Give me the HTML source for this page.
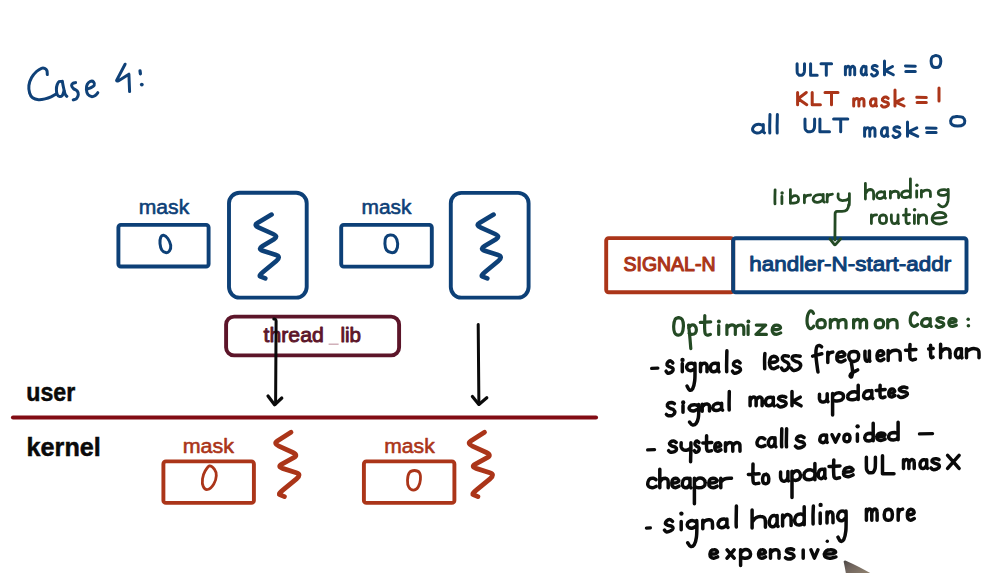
<!DOCTYPE html>
<html><head><meta charset="utf-8"><style>
html,body{margin:0;padding:0;background:#fff;width:1003px;height:573px;overflow:hidden}
svg{display:block}
</style></head><body>
<svg width="1003" height="573" viewBox="0 0 1003 573">
<rect width="1003" height="573" fill="#fff"/>
<path d="M47.3,74.6 C47.2,73.9 47.3,71.6 46.9,70.6 C46.5,69.6 45.5,68.8 44.6,68.4 C43.7,68.0 42.9,67.8 41.5,68.3 C40.1,68.8 38.1,70.0 36.5,71.5 C34.9,73.0 32.9,75.2 31.6,77.5 C30.3,79.8 29.2,82.9 28.9,85.5 C28.6,88.1 29.0,91.0 29.6,93.0 C30.2,95.0 31.1,96.7 32.6,97.8 C34.1,98.9 36.4,99.5 38.5,99.7 C40.6,99.9 42.9,99.4 45.0,98.9 C47.1,98.4 49.2,97.7 51.0,96.9 C52.8,96.1 54.8,94.7 55.6,94.3" fill="none" stroke="#0f4178" stroke-width="3.00" stroke-linecap="round" stroke-linejoin="round" />
<path d="M62.0,81.6 C61.5,81.6 60.0,81.1 59.2,81.6 C58.4,82.1 57.7,83.3 57.2,84.6 C56.7,85.9 56.4,87.8 56.4,89.5 C56.4,91.2 56.7,93.3 57.2,94.5 C57.7,95.7 58.7,96.5 59.6,96.6 C60.5,96.7 61.7,96.2 62.4,95.3 C63.1,94.4 63.7,91.7 64.0,91.0" fill="none" stroke="#0f4178" stroke-width="3.00" stroke-linecap="round" stroke-linejoin="round" />
<path d="M62.3,81.3 C62.5,82.4 63.1,85.9 63.6,88.0 C64.1,90.1 64.5,92.6 65.1,94.0 C65.6,95.4 66.6,96.0 66.9,96.4" fill="none" stroke="#0f4178" stroke-width="3.00" stroke-linecap="round" stroke-linejoin="round" />
<path d="M75.6,82.6 C75.2,82.7 73.7,82.7 73.0,83.2 C72.3,83.7 71.5,84.7 71.6,85.6 C71.7,86.5 72.6,87.7 73.5,88.6 C74.4,89.5 76.4,90.0 77.2,91.0 C78.0,92.0 78.4,93.4 78.3,94.6 C78.2,95.8 77.4,97.5 76.6,98.4 C75.8,99.3 73.8,99.7 73.2,99.9" fill="none" stroke="#0f4178" stroke-width="3.00" stroke-linecap="round" stroke-linejoin="round" />
<path d="M87.8,88.8 C88.3,88.6 89.9,88.2 91.0,87.6 C92.1,87.0 93.8,86.2 94.2,85.3 C94.6,84.4 94.2,82.7 93.6,82.0 C93.0,81.3 91.5,81.0 90.4,81.4 C89.4,81.8 88.0,82.9 87.3,84.2 C86.6,85.5 86.3,87.8 86.4,89.5 C86.5,91.2 87.1,93.2 87.9,94.4 C88.8,95.6 90.3,96.4 91.5,96.6 C92.7,96.8 94.2,96.1 95.3,95.4 C96.3,94.8 97.4,93.2 97.8,92.7" fill="none" stroke="#0f4178" stroke-width="3.00" stroke-linecap="round" stroke-linejoin="round" />
<path d="M125.1,64.2 L116.6,80.4 Q116.8,81.6 118.6,80.7 L128.9,74.2 L129.6,91.6" fill="none" stroke="#0f4178" stroke-width="3.00" stroke-linecap="round" stroke-linejoin="round" />
<path d="M140,70.8 L140.4,73.8" fill="none" stroke="#0f4178" stroke-width="3.20" stroke-linecap="round" stroke-linejoin="round" />
<circle cx="141.8" cy="84.6" r="1.9" fill="#0f4178"/>
<text x="138.8" y="213.8" font-family="Liberation Sans" font-size="19.5" font-weight="normal" fill="#0d4077" textLength="50.4" lengthAdjust="spacingAndGlyphs" stroke="#0d4077" stroke-width="0.55" stroke-linejoin="round">mask</text>
<rect x="118.4" y="224.9" width="90.2" height="41.6" rx="2.5" fill="none" stroke="#0d4077" stroke-width="3.9"/>
<path d="M163.5,235.3 C164.7,235.5 166.6,236.8 167.8,238.5 C169.0,240.2 170.4,243.2 170.7,245.3 C171.0,247.4 170.2,249.8 169.4,251.0 C168.6,252.2 167.0,252.8 165.7,252.6 C164.4,252.4 162.8,251.5 161.8,250.0 C160.9,248.5 160.2,245.8 160.0,243.7 C159.8,241.6 160.1,238.8 160.7,237.4 C161.3,236.0 162.3,235.1 163.5,235.3Z" fill="none" stroke="#0d4077" stroke-width="3.00" stroke-linecap="round" stroke-linejoin="round" />
<rect x="229" y="192.7" width="77.7" height="104.9" rx="10.5" fill="none" stroke="#0d4077" stroke-width="3.9"/>
<path d="M271.6,214.6 L257.4,222.9 Q253.4,225.3 258.9,227.7 L273.1,234.0 Q278.6,236.4 274.0,239.2 L262.2,246.2 Q257.6,249.0 262.8,250.7 L276.1,255.0 Q281.3,256.7 276.3,260.9 L263.6,271.6 Q258.6,275.8 260.1,276.4 L265.3,278.4" fill="none" stroke="#0d4077" stroke-width="4.60" stroke-linecap="round" stroke-linejoin="round" />
<text x="361.6" y="213.6" font-family="Liberation Sans" font-size="19.5" font-weight="normal" fill="#0d4077" textLength="49.9" lengthAdjust="spacingAndGlyphs" stroke="#0d4077" stroke-width="0.55" stroke-linejoin="round">mask</text>
<rect x="341.2" y="224.9" width="90.6" height="41.7" rx="2.5" fill="none" stroke="#0d4077" stroke-width="3.9"/>
<path d="M390.1,235.1 C391.7,235.0 394.1,235.5 395.4,236.9 C396.7,238.3 397.6,241.3 397.7,243.7 C397.8,246.0 397.0,249.5 395.9,251.0 C394.8,252.5 392.8,252.8 391.2,252.6 C389.6,252.4 387.6,251.5 386.5,250.0 C385.4,248.5 385.0,245.8 384.9,243.7 C384.8,241.6 385.0,238.8 385.9,237.4 C386.8,236.0 388.5,235.2 390.1,235.1Z" fill="none" stroke="#0d4077" stroke-width="3.00" stroke-linecap="round" stroke-linejoin="round" />
<rect x="450.8" y="192.9" width="77.8" height="104.7" rx="10.5" fill="none" stroke="#0d4077" stroke-width="3.9"/>
<path d="M493.6,214.6 L479.4,222.9 Q475.4,225.3 480.9,227.7 L495.1,234.0 Q500.6,236.4 496.0,239.2 L484.2,246.2 Q479.6,249.0 484.8,250.7 L498.1,255.0 Q503.3,256.7 498.3,260.9 L485.6,271.6 Q480.6,275.8 482.1,276.4 L487.3,278.4" fill="none" stroke="#0d4077" stroke-width="4.60" stroke-linecap="round" stroke-linejoin="round" />
<rect x="226.1" y="316.6" width="173" height="38.8" rx="8" fill="none" stroke="#5c1529" stroke-width="3.9"/>
<text x="263.6" y="341.9" font-family="Liberation Sans" font-size="21.0" font-weight="normal" fill="#5c1529" textLength="60.2" lengthAdjust="spacingAndGlyphs" stroke="#5c1529" stroke-width="0.90" stroke-linejoin="round">thread</text>
<text x="340.4" y="341.9" font-family="Liberation Sans" font-size="21.0" font-weight="normal" fill="#5c1529" textLength="20.6" lengthAdjust="spacingAndGlyphs" stroke="#5c1529" stroke-width="0.90" stroke-linejoin="round">lib</text>
<line x1="328.6" y1="344.2" x2="338.6" y2="344.2" stroke="#c9a3ae" stroke-width="1.3"/>
<path d="M273.8,319 Q276,318.6 276.1,321 L275.6,404" fill="none" stroke="#0a0a0a" stroke-width="3.00" stroke-linecap="round" stroke-linejoin="round" />
<path d="M268,396 L274.6,404.8 L281.8,398" fill="none" stroke="#0a0a0a" stroke-width="3.20" stroke-linecap="round" stroke-linejoin="round" />
<path d="M478.2,324.5 L478.9,404" fill="none" stroke="#0a0a0a" stroke-width="3.00" stroke-linecap="round" stroke-linejoin="round" />
<path d="M472.4,396.4 L478.9,404.4 L486.8,397.8" fill="none" stroke="#0a0a0a" stroke-width="3.20" stroke-linecap="round" stroke-linejoin="round" />
<text x="26.3" y="400.9" font-family="Liberation Sans" font-size="25.0" font-weight="bold" fill="#0a0a0a" textLength="48.9" lengthAdjust="spacingAndGlyphs" stroke="#0a0a0a" stroke-width="0.5">user</text>
<line x1="13" y1="417.5" x2="596" y2="417.5" stroke="#820c14" stroke-width="4.1" stroke-linecap="round"/>
<text x="26.6" y="455.6" font-family="Liberation Sans" font-size="25.0" font-weight="bold" fill="#0a0a0a" textLength="74.2" lengthAdjust="spacingAndGlyphs" stroke="#0a0a0a" stroke-width="0.5">kernel</text>
<text x="182.7" y="452.6" font-family="Liberation Sans" font-size="19.5" font-weight="normal" fill="#ab3519" textLength="51.3" lengthAdjust="spacingAndGlyphs" stroke="#ab3519" stroke-width="0.55" stroke-linejoin="round">mask</text>
<rect x="163.4" y="461.4" width="90.5" height="41.5" rx="2.5" fill="none" stroke="#ab3519" stroke-width="3.9"/>
<path d="M209.4,466.0 C211.0,465.7 213.3,467.8 214.5,469.4 C215.7,471.0 216.4,473.3 216.3,475.7 C216.2,478.1 215.2,481.6 213.8,483.9 C212.4,486.2 209.4,489.1 207.6,489.5 C205.8,489.9 204.0,488.2 203.2,486.4 C202.3,484.6 202.2,481.3 202.5,478.8 C202.8,476.3 203.8,473.4 205.0,471.3 C206.2,469.2 207.8,466.3 209.4,466.0Z" fill="none" stroke="#ab3519" stroke-width="2.80" stroke-linecap="round" stroke-linejoin="round" />
<path d="M291.0,432.2 L277.3,441.0 Q273.4,443.5 278.9,446.1 L292.9,452.5 Q298.4,455.1 293.7,457.7 L281.9,464.1 Q277.2,466.7 282.6,468.4 L296.3,472.8 Q301.7,474.5 296.5,478.8 L283.4,489.7 Q278.2,494.0 279.6,494.6 L284.4,496.6" fill="none" stroke="#ab3519" stroke-width="4.80" stroke-linecap="round" stroke-linejoin="round" />
<text x="384.3" y="452.6" font-family="Liberation Sans" font-size="19.5" font-weight="normal" fill="#ab3519" textLength="50.4" lengthAdjust="spacingAndGlyphs" stroke="#ab3519" stroke-width="0.55" stroke-linejoin="round">mask</text>
<rect x="363.9" y="461.4" width="90.5" height="41.5" rx="2.5" fill="none" stroke="#ab3519" stroke-width="3.9"/>
<path d="M414.4,470.5 C416.1,470.5 418.5,471.2 419.5,472.7 C420.5,474.2 420.6,477.2 420.4,479.6 C420.2,482.0 419.3,485.3 418.2,487.1 C417.1,488.9 415.1,490.2 413.5,490.2 C411.9,490.2 409.8,488.8 408.8,487.1 C407.8,485.4 407.4,482.6 407.5,480.2 C407.6,477.8 408.2,474.3 409.4,472.7 C410.5,471.1 412.7,470.5 414.4,470.5Z" fill="none" stroke="#ab3519" stroke-width="2.80" stroke-linecap="round" stroke-linejoin="round" />
<path d="M484.5,432.2 L470.8,441.0 Q466.9,443.5 472.4,446.1 L486.4,452.5 Q491.9,455.1 487.2,457.7 L475.4,464.1 Q470.7,466.7 476.1,468.4 L489.8,472.8 Q495.2,474.5 490.0,478.8 L476.9,489.7 Q471.7,494.0 473.1,494.6 L477.9,496.6" fill="none" stroke="#ab3519" stroke-width="4.80" stroke-linecap="round" stroke-linejoin="round" />
<rect x="606.2" y="238.1" width="127" height="54.2" rx="2.5" fill="none" stroke="#ab3519" stroke-width="3.9"/>
<rect x="733.2" y="238.2" width="233.3" height="54.1" rx="2.5" fill="none" stroke="#0d4077" stroke-width="3.9"/>
<text x="623.5" y="271.1" font-family="Liberation Sans" font-size="19.8" font-weight="normal" fill="#ab3519" textLength="92.0" lengthAdjust="spacingAndGlyphs" stroke="#ab3519" stroke-width="1.15" stroke-linejoin="round">SIGNAL-N</text>
<text x="749.3" y="270.6" font-family="Liberation Sans" font-size="20.5" font-weight="normal" fill="#0d4077" textLength="201.9" lengthAdjust="spacingAndGlyphs" stroke="#0d4077" stroke-width="1.00" stroke-linejoin="round">handler-N-start-addr</text>
<path d="M797.1,63.7 C797.1,64.6 797.1,67.5 797.1,69.1 C797.1,70.6 797.1,71.9 797.3,72.9 C797.6,73.9 798.3,74.5 798.8,74.9 C799.4,75.3 800.1,75.3 800.8,75.2 C801.5,75.1 802.4,75.1 802.9,74.6 C803.5,74.1 804.0,73.2 804.3,72.1 C804.5,71.1 804.5,69.7 804.5,68.3 C804.5,66.9 804.5,64.5 804.5,63.7 M810.6,63.7 L810.6,75.2 L817.2,75.2 M821.0,63.7 L831.6,63.7 M826.3,63.7 L826.3,75.2" fill="none" stroke="#0f4178" stroke-width="3.00" stroke-linecap="round" stroke-linejoin="round"/>
<path d="M845.4,66.5 L845.4,74.8 M845.5,69.2 C845.7,68.8 846.4,67.3 847.0,66.8 C847.5,66.4 848.3,66.3 848.8,66.5 C849.3,66.7 849.8,66.8 850.0,68.2 C850.2,69.5 850.0,73.7 850.0,74.8 M850.0,69.2 C850.3,68.8 851.1,67.3 851.6,66.8 C852.2,66.4 853.0,66.3 853.5,66.5 C854.0,66.7 854.4,66.8 854.6,68.2 C854.8,69.5 854.7,73.7 854.7,74.8 M866.0,67.9 C865.8,67.7 865.2,66.7 864.6,66.5 C864.1,66.3 863.1,66.4 862.6,67.0 C862.0,67.6 861.5,68.8 861.3,69.8 C861.1,70.8 861.2,72.3 861.4,73.1 C861.7,74.0 862.4,74.6 863.0,74.8 C863.5,75.0 864.3,74.7 864.8,74.1 C865.3,73.6 865.8,72.1 866.0,71.6 M866.0,66.5 L866.0,73.8 L866.6,74.8 M877.2,66.3 C876.9,66.2 876.0,65.6 875.3,65.5 C874.6,65.4 873.5,65.6 873.0,66.0 C872.5,66.4 872.1,67.5 872.3,68.2 C872.5,68.8 873.4,69.4 874.2,69.8 C874.9,70.3 876.1,70.3 876.6,70.8 C877.2,71.3 877.6,72.2 877.5,73.0 C877.4,73.7 876.6,74.7 875.9,75.2 C875.1,75.7 873.8,76.0 873.0,75.9 C872.3,75.8 871.8,74.6 871.5,74.3 M884.5,61.1 L884.5,74.8 M892.5,66.5 L885.2,70.5 L893.3,74.8" fill="none" stroke="#0f4178" stroke-width="3.00" stroke-linecap="round" stroke-linejoin="round"/>
<path d="M905.5,65.9 L915.3,66.2 M905.8,71.5 L915.3,71.5" fill="none" stroke="#0f4178" stroke-width="3.00" stroke-linecap="round" stroke-linejoin="round" />
<path d="M936.0,55.5 C935.4,55.7 933.2,55.8 932.4,56.8 C931.6,57.7 931.1,59.6 931.1,61.1 C931.1,62.7 931.4,64.9 932.2,66.0 C933.0,67.1 934.7,67.6 936.0,67.6 C937.2,67.6 938.9,67.1 939.7,66.0 C940.5,64.9 940.8,62.7 940.8,61.1 C940.8,59.6 940.3,57.7 939.5,56.8 C938.7,55.8 936.8,55.6 935.8,55.5 C934.9,55.4 934.2,56.0 933.9,56.1" fill="none" stroke="#0f4178" stroke-width="3.00" stroke-linecap="round" stroke-linejoin="round"/>
<path d="M797.6,92.5 L797.6,104.7 M806.3,92.5 L798.1,98.8 L806.8,104.7 M812.2,92.5 L812.2,104.7 L820.4,104.7 M825.0,92.5 L838.0,92.5 M831.5,92.5 L831.5,104.7" fill="none" stroke="#ab3519" stroke-width="3.00" stroke-linecap="round" stroke-linejoin="round"/>
<path d="M853.7,98.7 L853.7,106.0 M853.8,101.0 C854.1,100.7 854.8,99.4 855.5,99.0 C856.1,98.6 857.0,98.5 857.5,98.7 C858.1,98.9 858.5,98.9 858.7,100.2 C859.0,101.4 858.8,105.0 858.9,106.0 M858.9,101.0 C859.1,100.7 860.0,99.4 860.6,99.0 C861.2,98.6 862.1,98.5 862.7,98.7 C863.2,98.9 863.7,98.9 863.9,100.2 C864.1,101.4 864.0,105.0 864.0,106.0 M875.9,99.9 C875.6,99.7 874.9,98.8 874.3,98.7 C873.6,98.6 872.6,98.7 871.9,99.1 C871.3,99.6 870.7,100.7 870.5,101.6 C870.3,102.5 870.3,103.8 870.7,104.5 C871.0,105.3 871.8,105.9 872.4,106.0 C873.0,106.1 873.9,105.9 874.4,105.4 C875.0,105.0 875.6,103.6 875.9,103.2 M875.9,98.7 L875.9,105.1 L876.5,106.0 M888.2,98.4 C887.8,98.2 886.8,97.2 885.9,97.1 C885.1,97.0 883.9,97.4 883.3,97.9 C882.7,98.4 882.2,99.5 882.4,100.2 C882.6,100.8 883.8,101.2 884.6,101.6 C885.5,102.0 886.9,102.0 887.5,102.5 C888.1,103.0 888.6,103.8 888.5,104.4 C888.4,105.0 887.5,105.9 886.6,106.3 C885.7,106.7 884.1,107.1 883.3,107.0 C882.4,106.8 881.8,105.8 881.5,105.6 M895.0,89.9 L895.0,106.0 M903.2,98.7 L895.7,102.2 L904.1,106.0" fill="none" stroke="#ab3519" stroke-width="3.00" stroke-linecap="round" stroke-linejoin="round"/>
<path d="M916.8,97.3 L926.3,97.6 M917.1,102.5 L926.3,102.5" fill="none" stroke="#ab3519" stroke-width="3.00" stroke-linecap="round" stroke-linejoin="round" />
<path d="M939.0,88.0 L939.0,101.0" fill="none" stroke="#ab3519" stroke-width="3.00" stroke-linecap="round" stroke-linejoin="round"/>
<path d="M763.3,125.8 C762.8,125.6 761.5,124.6 760.2,124.4 C759.0,124.2 756.9,124.3 755.6,124.9 C754.4,125.5 753.3,126.8 752.9,127.8 C752.5,128.8 752.6,130.4 753.2,131.2 C753.8,132.1 755.3,132.7 756.6,132.9 C757.8,133.1 759.4,132.8 760.5,132.2 C761.7,131.7 762.8,130.1 763.3,129.7 M763.3,124.4 L763.3,131.9 L764.5,132.9 M770.0,114.5 C769.9,116.4 769.8,123.0 769.7,126.1 C769.7,129.2 769.8,131.8 769.8,132.9 M777.4,114.5 C777.3,116.4 777.2,123.0 777.1,126.1 C777.1,129.2 777.2,131.8 777.2,132.9" fill="none" stroke="#0f4178" stroke-width="3.00" stroke-linecap="round" stroke-linejoin="round"/>
<path d="M805.0,119.0 C805.0,120.0 804.9,123.2 805.0,124.9 C805.1,126.6 804.9,128.1 805.3,129.2 C805.7,130.2 806.5,130.9 807.2,131.4 C808.0,131.8 808.9,131.8 809.8,131.7 C810.7,131.6 811.8,131.6 812.6,131.0 C813.3,130.5 813.9,129.5 814.3,128.3 C814.6,127.2 814.5,125.6 814.6,124.1 C814.7,122.5 814.6,119.8 814.6,119.0 M819.9,119.0 L819.9,131.7 L829.5,131.7 M833.6,119.0 L847.8,119.0 M840.7,119.0 L840.7,131.7" fill="none" stroke="#0f4178" stroke-width="3.00" stroke-linecap="round" stroke-linejoin="round"/>
<path d="M864.6,127.8 L864.6,136.3 M864.7,130.5 C865.0,130.1 865.7,128.6 866.4,128.1 C867.0,127.7 867.9,127.6 868.4,127.8 C869.0,128.0 869.5,128.1 869.7,129.5 C869.9,130.9 869.8,135.2 869.8,136.3 M869.8,130.5 C870.1,130.1 870.9,128.6 871.6,128.1 C872.2,127.7 873.1,127.6 873.6,127.8 C874.2,128.0 874.7,128.1 874.9,129.5 C875.1,130.9 875.0,135.2 875.0,136.3 M887.3,129.2 C887.0,129.0 886.3,128.0 885.6,127.8 C884.9,127.6 883.7,127.7 883.0,128.3 C882.4,128.9 881.7,130.2 881.5,131.2 C881.3,132.2 881.3,133.8 881.7,134.6 C882.0,135.5 882.9,136.1 883.6,136.3 C884.2,136.5 885.1,136.2 885.8,135.6 C886.4,135.1 887.1,133.5 887.3,133.1 M887.3,127.8 L887.3,135.3 L888.0,136.3 M899.7,127.6 C899.3,127.5 898.3,126.8 897.4,126.7 C896.6,126.7 895.4,126.8 894.8,127.3 C894.2,127.7 893.7,128.8 893.9,129.5 C894.1,130.2 895.3,130.7 896.1,131.2 C897.0,131.7 898.4,131.7 899.0,132.2 C899.6,132.8 900.1,133.7 900.0,134.4 C899.9,135.2 899.0,136.2 898.1,136.7 C897.2,137.2 895.6,137.6 894.8,137.4 C893.9,137.3 893.3,136.1 893.0,135.8 M907.5,122.1 L907.5,136.3 M916.8,127.8 L908.3,131.9 L917.8,136.3" fill="none" stroke="#0f4178" stroke-width="3.00" stroke-linecap="round" stroke-linejoin="round"/>
<path d="M926.5,128.0 L936.1,128.3 M926.8,132.5 L936.1,132.5" fill="none" stroke="#0f4178" stroke-width="3.00" stroke-linecap="round" stroke-linejoin="round" />
<path d="M957.7,116.4 C956.8,116.6 953.7,116.7 952.5,117.4 C951.3,118.2 950.7,119.7 950.6,120.9 C950.5,122.1 951.0,123.9 952.2,124.7 C953.4,125.6 955.9,126.0 957.7,126.0 C959.5,126.0 962.0,125.6 963.2,124.7 C964.4,123.9 964.9,122.1 964.8,120.9 C964.7,119.7 964.1,118.2 962.9,117.4 C961.7,116.7 958.9,116.5 957.5,116.4 C956.2,116.3 955.2,116.8 954.7,116.9" fill="none" stroke="#0f4178" stroke-width="3.00" stroke-linecap="round" stroke-linejoin="round"/>
<path d="M775.1,189.8 C775.1,191.1 774.9,195.5 774.9,197.8 C774.9,200.2 774.9,202.9 775.0,203.9 M781.9,196.4 L781.9,203.7 M790.4,189.7 L790.4,203.3 M790.5,198.8 C791.0,198.3 792.4,196.4 793.5,195.9 C794.6,195.5 796.3,195.5 797.1,196.1 C798.0,196.6 798.6,198.2 798.6,199.2 C798.6,200.2 798.2,201.5 797.4,202.2 C796.6,202.8 794.8,203.1 793.7,203.2 C792.6,203.3 791.1,202.7 790.5,202.6 M804.4,195.2 L804.4,202.8 M804.5,198.1 C804.9,197.7 805.6,196.3 806.6,195.7 C807.6,195.2 809.9,195.1 810.6,195.0 M823.2,195.8 C822.8,195.6 821.6,194.7 820.3,194.6 C819.1,194.5 817.2,194.7 816.0,195.2 C814.8,195.8 813.8,197.0 813.4,197.9 C813.0,198.9 813.1,200.2 813.7,201.0 C814.3,201.7 815.7,202.2 816.9,202.4 C818.0,202.5 819.6,202.1 820.6,201.6 C821.7,201.1 822.8,199.6 823.2,199.2 M823.2,194.5 L823.2,201.2 L824.4,202.1 M827.2,194.4 L827.2,202.0 M827.3,197.3 C827.6,196.9 828.2,195.4 829.1,194.9 C829.9,194.4 831.8,194.3 832.4,194.2 M838.2,194.0 C838.2,194.6 837.8,196.7 838.2,197.8 C838.6,198.8 839.4,199.7 840.4,200.1 C841.4,200.6 843.0,200.6 844.2,200.4 C845.5,200.3 847.2,199.7 848.0,199.2 C848.9,198.7 849.2,197.7 849.4,197.4 M849.4,193.6 C849.4,194.6 849.4,197.7 849.4,199.6 C849.4,201.6 849.3,204.2 849.2,205.2" fill="none" stroke="#244a24" stroke-width="2.80" stroke-linecap="round" stroke-linejoin="round"/><circle cx="782.1" cy="193.0" r="1.74" fill="#244a24"/>
<path d="M865.4,183.4 L865.4,199.0 M865.5,193.5 C865.9,193.0 866.9,191.0 867.8,190.3 C868.7,189.6 869.9,189.5 870.8,189.5 C871.7,189.6 872.6,190.1 873.1,190.9 C873.6,191.7 873.5,192.9 873.6,194.3 C873.7,195.6 873.6,198.2 873.6,199.0 M884.6,192.8 C884.2,192.6 883.2,191.8 882.3,191.8 C881.3,191.7 879.8,191.8 878.9,192.3 C877.9,192.7 877.1,193.8 876.8,194.6 C876.5,195.4 876.6,196.6 877.0,197.2 C877.5,197.9 878.6,198.4 879.5,198.5 C880.5,198.6 881.7,198.3 882.5,197.8 C883.4,197.4 884.2,196.1 884.6,195.8 M884.6,191.7 L884.6,197.5 L885.5,198.2 M890.4,191.5 L890.4,198.1 M890.5,193.7 C890.9,193.4 892.1,192.1 893.0,191.6 C894.0,191.2 895.2,191.2 896.1,191.3 C896.9,191.4 897.8,191.7 898.2,192.4 C898.6,193.0 898.5,194.2 898.6,195.1 C898.7,196.0 898.6,197.3 898.6,197.8 M910.4,192.1 C909.9,191.9 908.5,191.0 907.3,190.9 C906.1,190.8 904.2,191.1 903.2,191.7 C902.2,192.3 901.5,193.5 901.4,194.4 C901.3,195.3 901.7,196.3 902.4,196.9 C903.2,197.4 904.7,197.6 905.8,197.5 C906.9,197.5 908.3,197.1 909.1,196.6 C909.9,196.2 910.2,195.1 910.4,194.7 M910.4,178.8 L910.4,197.4 M916.7,190.8 L916.7,197.2 M921.4,190.4 L921.4,197.0 M921.5,192.6 C922.0,192.3 923.3,191.0 924.3,190.6 C925.3,190.1 926.7,190.1 927.6,190.2 C928.6,190.3 929.5,190.6 930.0,191.3 C930.4,191.9 930.3,193.1 930.4,194.0 C930.5,194.9 930.4,196.2 930.4,196.7 M948.2,190.8 C947.6,190.6 945.9,189.7 944.6,189.6 C943.2,189.5 941.2,189.7 940.1,190.3 C939.1,190.8 938.2,191.9 938.2,192.7 C938.2,193.5 938.9,194.5 939.8,194.9 C940.8,195.3 942.6,195.5 944.0,195.3 C945.4,195.1 947.5,193.8 948.2,193.5 M948.2,189.5 C948.2,190.2 948.3,192.1 948.3,194.1 C948.3,196.0 948.3,199.2 947.9,201.1 C947.4,203.1 946.5,204.8 945.5,205.7 C944.4,206.7 942.8,206.9 941.6,206.7 C940.5,206.5 939.1,204.9 938.6,204.5" fill="none" stroke="#244a24" stroke-width="2.80" stroke-linecap="round" stroke-linejoin="round"/><circle cx="916.9" cy="185.3" r="1.74" fill="#244a24"/>
<path d="M871.4,214.9 L871.4,223.6 M871.5,218.2 C871.8,217.8 872.4,216.1 873.3,215.6 C874.1,215.0 876.0,215.0 876.6,214.9 M883.4,214.9 C883.0,215.0 881.2,215.0 880.5,215.8 C879.8,216.5 879.4,218.1 879.4,219.2 C879.4,220.4 879.7,222.0 880.3,222.7 C880.9,223.5 882.1,223.6 883.0,223.6 C884.0,223.6 885.2,223.3 885.8,222.6 C886.4,221.8 886.6,220.2 886.6,219.1 C886.6,218.0 886.3,216.6 885.7,215.9 C885.2,215.2 883.9,215.0 883.2,214.9 C882.6,214.8 881.9,215.3 881.7,215.4 M891.4,214.9 C891.4,215.8 891.2,218.8 891.4,220.1 C891.6,221.5 892.0,222.3 892.5,222.9 C893.1,223.5 894.0,223.7 894.7,223.6 C895.5,223.5 896.4,223.2 897.0,222.6 C897.5,221.9 897.8,220.4 898.0,219.9 M898.0,214.9 L898.0,222.7 L898.6,223.6 M906.1,209.1 C906.1,210.7 905.9,216.1 906.0,218.4 C906.0,220.6 906.0,221.7 906.3,222.6 C906.6,223.4 907.0,223.5 907.5,223.6 C908.0,223.7 909.1,223.2 909.4,223.1 M903.4,215.1 L909.6,214.7 M914.4,215.2 L914.4,223.6 M918.4,214.9 L918.4,223.6 M918.5,217.9 C918.9,217.4 920.1,215.7 921.0,215.2 C922.0,214.8 923.2,214.7 924.1,214.9 C924.9,215.1 925.8,215.6 926.2,216.5 C926.6,217.3 926.5,218.9 926.6,220.1 C926.7,221.3 926.6,223.0 926.6,223.6 M933.2,218.2 C934.6,218.1 939.8,218.1 941.9,217.7 C944.0,217.4 945.6,216.8 945.9,216.1 C946.2,215.4 945.0,213.9 943.9,213.3 C942.9,212.7 941.1,212.4 939.5,212.4 C938.0,212.4 936.0,212.6 934.8,213.6 C933.6,214.5 932.4,216.5 932.2,218.0 C932.0,219.4 932.6,221.4 933.8,222.4 C935.0,223.4 937.5,224.0 939.5,224.0 C941.6,224.0 945.2,222.5 946.3,222.1" fill="none" stroke="#244a24" stroke-width="2.80" stroke-linecap="round" stroke-linejoin="round"/><circle cx="914.6" cy="209.7" r="1.74" fill="#244a24"/>
<path d="M848.6,205 Q848.6,211.2 842,211.4 L837.2,211.4 Q835.1,211.6 835.1,214 L834.9,240" fill="none" stroke="#244a24" stroke-width="2.80" stroke-linecap="round" stroke-linejoin="round" />
<path d="M829.9,238.8 L834.2,244.4 Q834.9,245.4 835.7,244.4 L840.7,238.8" fill="none" stroke="#244a24" stroke-width="2.80" stroke-linecap="round" stroke-linejoin="round" />
<path d="M678.5,317.6 C678.0,317.9 676.0,317.9 675.2,319.2 C674.4,320.6 673.8,323.6 673.7,325.8 C673.6,328.0 673.9,331.1 674.6,332.6 C675.4,334.2 677.0,335.1 678.2,335.2 C679.4,335.3 681.0,334.8 681.9,333.3 C682.7,331.9 683.3,328.7 683.4,326.4 C683.5,324.1 683.0,320.9 682.2,319.5 C681.3,318.0 679.4,317.8 678.5,317.6 C677.5,317.4 676.7,318.4 676.3,318.5 M688.6,325.1 C688.7,326.3 689.0,328.6 689.4,332.5 C689.8,336.5 690.6,346.0 690.8,348.7 M688.7,328.1 C689.2,327.6 690.5,325.5 691.5,325.1 C692.6,324.7 694.2,325.1 695.0,325.8 C695.8,326.6 696.4,328.5 696.4,329.8 C696.4,331.0 696.0,332.5 695.2,333.3 C694.5,334.1 692.8,334.4 691.7,334.4 C690.7,334.4 689.5,333.3 689.1,333.1 M704.8,315.6 C704.8,317.6 704.6,324.4 704.6,327.4 C704.7,330.4 704.7,332.3 705.2,333.6 C705.6,334.9 706.4,335.1 707.2,335.2 C708.1,335.3 709.8,334.5 710.4,334.4 M700.3,322.4 L710.7,321.9 M718.7,325.5 L718.7,334.4 M726.9,325.1 L726.9,334.4 M727.1,328.1 C727.5,327.6 728.8,326.0 729.8,325.5 C730.8,325.0 732.3,324.9 733.2,325.1 C734.1,325.3 734.8,325.4 735.2,327.0 C735.5,328.5 735.3,333.2 735.3,334.4 M735.3,328.1 C735.8,327.6 737.2,326.0 738.2,325.5 C739.3,325.0 740.7,324.9 741.6,325.1 C742.5,325.3 743.3,325.4 743.6,327.0 C744.0,328.5 743.8,333.2 743.8,334.4 M748.1,325.5 L748.1,334.4 M756.3,325.1 L765.7,325.1 L756.0,334.4 L766.4,334.4 M772.8,329.8 C773.7,329.7 776.8,329.7 778.1,329.4 C779.3,329.1 780.3,328.7 780.5,328.1 C780.7,327.5 779.9,326.3 779.3,325.8 C778.6,325.3 777.5,325.1 776.6,325.1 C775.7,325.1 774.5,325.3 773.8,326.0 C773.0,326.8 772.3,328.4 772.2,329.6 C772.1,330.7 772.4,332.3 773.2,333.1 C773.9,333.9 775.4,334.4 776.6,334.4 C777.9,334.4 780.0,333.2 780.7,332.9" fill="none" stroke="#244a24" stroke-width="3.20" stroke-linecap="round" stroke-linejoin="round"/><circle cx="718.9" cy="321.4" r="1.98" fill="#244a24"/><circle cx="748.4" cy="321.4" r="1.98" fill="#244a24"/>
<path d="M813.5,313.4 C813.2,313.0 812.5,311.4 811.9,311.1 C811.2,310.8 810.1,311.0 809.4,311.8 C808.7,312.6 808.0,314.2 807.6,315.7 C807.2,317.3 807.0,319.3 807.0,321.0 C807.0,322.7 807.3,324.7 807.8,325.9 C808.3,327.2 809.3,328.2 810.0,328.5 C810.7,328.8 811.6,328.4 812.2,328.0 C812.8,327.6 813.5,326.5 813.7,326.2 M821.6,319.6 C821.0,319.7 819.0,319.7 818.2,320.4 C817.4,321.1 816.9,322.6 816.9,323.8 C816.9,324.9 817.2,326.4 817.9,327.1 C818.6,327.8 820.1,327.9 821.2,327.9 C822.2,327.9 823.7,327.6 824.4,326.9 C825.1,326.2 825.3,324.6 825.3,323.6 C825.3,322.5 824.9,321.3 824.3,320.6 C823.6,319.9 822.2,319.7 821.4,319.6 C820.6,319.5 819.9,320.0 819.5,320.1 M830.3,319.6 L830.3,327.9 M830.5,322.3 C830.9,321.9 832.0,320.4 833.0,319.9 C833.9,319.5 835.3,319.4 836.1,319.6 C836.9,319.8 837.7,319.9 838.0,321.3 C838.3,322.6 838.1,326.8 838.2,327.9 M838.2,322.3 C838.6,321.9 839.9,320.4 840.8,319.9 C841.8,319.5 843.1,319.4 844.0,319.6 C844.8,319.8 845.5,319.9 845.8,321.3 C846.2,322.6 846.0,326.8 846.0,327.9 M853.6,319.6 L853.6,327.9 M853.7,322.3 C854.1,321.9 855.0,320.4 855.8,319.9 C856.6,319.5 857.7,319.4 858.4,319.6 C859.1,319.8 859.7,319.9 860.0,321.3 C860.3,322.6 860.1,326.8 860.1,327.9 M860.1,322.3 C860.5,321.9 861.5,320.4 862.3,319.9 C863.1,319.5 864.2,319.4 864.9,319.6 C865.6,319.8 866.2,319.9 866.5,321.3 C866.8,322.6 866.6,326.8 866.6,327.9 M879.9,319.6 C879.3,319.7 877.3,319.7 876.5,320.4 C875.7,321.1 875.2,322.6 875.2,323.8 C875.2,324.9 875.5,326.4 876.2,327.1 C876.9,327.8 878.4,327.9 879.5,327.9 C880.5,327.9 882.0,327.6 882.7,326.9 C883.4,326.2 883.6,324.6 883.6,323.6 C883.6,322.5 883.2,321.3 882.6,320.6 C881.9,319.9 880.5,319.7 879.7,319.6 C878.9,319.5 878.2,320.0 877.8,320.1 M887.7,319.6 L887.7,327.9 M887.8,322.4 C888.3,322.0 889.7,320.4 890.7,319.9 C891.8,319.5 893.2,319.4 894.2,319.6 C895.2,319.8 896.2,320.3 896.7,321.1 C897.1,321.9 897.0,323.4 897.1,324.6 C897.2,325.7 897.1,327.3 897.1,327.9" fill="none" stroke="#244a24" stroke-width="3.20" stroke-linecap="round" stroke-linejoin="round"/>
<path d="M917.4,314.7 C917.1,314.4 916.4,313.1 915.6,312.9 C914.9,312.7 913.7,312.8 912.9,313.4 C912.1,314.0 911.3,315.3 910.8,316.4 C910.4,317.6 910.2,319.1 910.2,320.4 C910.2,321.7 910.5,323.3 911.1,324.2 C911.7,325.2 912.7,325.9 913.6,326.2 C914.4,326.5 915.4,326.1 916.0,325.8 C916.7,325.5 917.4,324.7 917.7,324.4 M930.2,319.9 C929.8,319.7 928.8,318.7 927.7,318.6 C926.7,318.5 925.0,318.5 924.0,319.1 C923.0,319.6 922.1,320.8 921.8,321.7 C921.5,322.7 921.6,324.1 922.0,324.8 C922.5,325.6 923.8,326.2 924.8,326.4 C925.8,326.6 927.1,326.3 928.0,325.8 C928.9,325.3 929.8,323.8 930.2,323.4 M930.2,318.6 L930.2,325.5 L931.2,326.4 M943.4,318.4 C943.0,318.3 941.9,317.6 941.0,317.5 C940.1,317.5 938.8,317.6 938.1,318.1 C937.5,318.5 936.9,319.6 937.2,320.2 C937.4,320.8 938.7,321.3 939.6,321.7 C940.5,322.1 942.0,322.2 942.7,322.7 C943.4,323.1 944.0,324.0 943.8,324.7 C943.6,325.4 942.7,326.3 941.7,326.7 C940.8,327.2 939.1,327.6 938.1,327.4 C937.2,327.3 936.5,326.2 936.2,325.9 M949.3,322.5 C950.1,322.4 952.8,322.4 954.0,322.2 C955.1,322.0 955.9,321.6 956.1,321.1 C956.3,320.6 955.6,319.6 955.0,319.2 C954.5,318.8 953.5,318.6 952.7,318.6 C951.9,318.6 950.8,318.8 950.2,319.4 C949.5,320.0 948.9,321.4 948.8,322.3 C948.7,323.3 949.0,324.6 949.6,325.3 C950.3,326.0 951.6,326.4 952.7,326.4 C953.8,326.4 955.7,325.4 956.3,325.2" fill="none" stroke="#244a24" stroke-width="3.20" stroke-linecap="round" stroke-linejoin="round"/>
<circle cx="968.2" cy="319.2" r="1.8" fill="#244a24"/><circle cx="968.4" cy="325.8" r="1.8" fill="#244a24"/>
<path d="M651.6,368.4 L657.9,368.1" fill="none" stroke="#0a0a0a" stroke-width="3.20" stroke-linecap="round" stroke-linejoin="round" />
<path d="M672.8,362.9 C672.4,362.5 671.4,361.1 670.6,360.9 C669.8,360.8 668.5,361.4 667.9,362.1 C667.3,362.8 666.8,364.2 667.0,364.9 C667.3,365.7 668.4,366.2 669.3,366.6 C670.1,367.1 671.5,367.1 672.1,367.7 C672.8,368.2 673.3,369.1 673.1,369.9 C673.0,370.6 672.1,371.7 671.3,372.3 C670.4,372.8 668.8,373.4 667.9,373.3 C667.1,373.1 666.4,371.6 666.1,371.2 M682.3,363.6 L682.3,371.8 M694.9,364.9 C694.4,364.7 693.1,363.4 692.0,363.2 C690.8,363.1 689.1,363.3 688.3,363.9 C687.4,364.6 686.7,366.0 686.6,367.0 C686.6,368.0 687.2,369.3 688.0,369.9 C688.8,370.5 690.3,370.8 691.5,370.6 C692.6,370.3 694.3,368.9 694.9,368.5 M694.9,363.2 C694.9,364.2 695.1,366.3 695.0,369.2 C695.0,372.1 695.1,377.4 694.7,380.7 C694.3,383.9 693.6,387.0 692.7,388.6 C691.8,390.2 690.4,390.5 689.5,390.1 C688.5,389.7 687.4,386.7 687.0,386.0 M700.5,363.2 L700.5,371.8 M700.6,366.1 C701.0,365.7 701.9,364.1 702.6,363.6 C703.4,363.1 704.4,363.1 705.0,363.2 C705.7,363.4 706.4,363.9 706.8,364.8 C707.1,365.6 707.0,367.2 707.0,368.4 C707.1,369.5 707.0,371.2 707.0,371.8 M718.2,364.7 C717.8,364.5 716.9,363.4 715.9,363.2 C715.0,363.1 713.5,363.2 712.6,363.8 C711.7,364.3 710.8,365.6 710.5,366.6 C710.3,367.7 710.3,369.2 710.8,370.1 C711.2,370.9 712.3,371.6 713.2,371.8 C714.1,371.9 715.3,371.6 716.1,371.1 C717.0,370.5 717.8,368.9 718.2,368.5 M718.2,363.2 L718.2,370.7 L719.0,371.8 M726.9,350.8 C726.8,353.1 726.7,361.4 726.6,364.9 C726.6,368.4 726.7,370.6 726.7,371.8 M740.1,362.9 C739.6,362.5 738.5,361.1 737.5,360.9 C736.6,360.8 735.2,361.4 734.5,362.1 C733.8,362.8 733.2,364.2 733.5,364.9 C733.7,365.7 735.0,366.2 736.0,366.6 C737.0,367.1 738.6,367.1 739.3,367.7 C740.0,368.2 740.6,369.1 740.5,369.9 C740.3,370.6 739.3,371.7 738.3,372.3 C737.3,372.8 735.5,373.4 734.5,373.3 C733.5,373.1 732.8,371.6 732.5,371.2" fill="none" stroke="#0a0a0a" stroke-width="3.50" stroke-linecap="round" stroke-linejoin="round"/><circle cx="682.5" cy="359.9" r="2.17" fill="#0a0a0a"/>
<path d="M764.9,353.6 C764.9,354.4 764.6,356.2 764.6,358.8 C764.5,361.3 764.7,367.1 764.7,368.8 M770.0,362.5 C770.9,362.4 774.0,362.4 775.3,362.0 C776.6,361.6 777.5,361.0 777.7,360.2 C777.9,359.5 777.2,357.9 776.5,357.2 C775.9,356.6 774.8,356.2 773.9,356.2 C773.0,356.3 771.7,356.5 771.0,357.5 C770.3,358.5 769.5,360.7 769.5,362.2 C769.4,363.8 769.7,365.9 770.4,367.0 C771.1,368.1 772.6,368.8 773.9,368.8 C775.1,368.7 777.3,367.1 778.0,366.8 M788.4,356.2 C788.0,356.1 786.9,355.8 786.1,355.8 C785.2,355.7 783.9,355.5 783.3,356.0 C782.7,356.5 782.1,357.9 782.4,358.8 C782.6,359.6 783.8,360.6 784.7,361.2 C785.6,361.9 787.0,362.0 787.7,362.8 C788.4,363.5 788.9,364.9 788.8,366.0 C788.6,367.1 787.7,368.6 786.8,369.3 C785.9,370.0 784.2,370.6 783.3,370.4 C782.4,370.2 781.8,368.4 781.5,368.0 M800.2,356.2 C799.7,356.1 798.3,355.8 797.1,355.8 C796.0,355.7 794.3,355.5 793.5,356.0 C792.7,356.5 792.0,357.9 792.3,358.8 C792.6,359.6 794.1,360.6 795.3,361.2 C796.5,361.9 798.4,362.0 799.3,362.8 C800.2,363.5 800.9,364.9 800.6,366.0 C800.4,367.1 799.3,368.6 798.1,369.3 C796.9,370.0 794.7,370.6 793.5,370.4 C792.3,370.2 791.5,368.4 791.0,368.0" fill="none" stroke="#0a0a0a" stroke-width="3.50" stroke-linecap="round" stroke-linejoin="round"/>
<path d="M821.6,346.8 C821.3,346.6 820.4,345.6 819.6,345.5 C818.9,345.4 817.7,345.5 817.1,346.3 C816.5,347.1 816.2,348.6 816.0,350.4 C815.8,352.3 816.0,355.1 816.1,357.6 C816.3,360.2 816.8,363.6 817.1,366.0 C817.4,368.4 817.8,371.0 818.0,372.0 M812.6,356.1 L821.8,353.8 M827.8,352.3 L827.8,362.4 M827.8,356.1 C828.1,355.6 828.7,353.7 829.5,353.0 C830.4,352.4 832.2,352.3 832.8,352.1 M837.3,357.0 C838.2,356.9 841.3,356.8 842.5,356.5 C843.8,356.1 844.7,355.6 844.9,355.0 C845.1,354.3 844.4,353.1 843.7,352.6 C843.1,352.1 842.0,351.8 841.1,351.9 C840.2,351.9 839.0,352.1 838.3,353.0 C837.6,353.8 836.8,355.6 836.8,356.8 C836.7,358.1 837.0,359.8 837.7,360.7 C838.4,361.5 839.9,362.0 841.1,362.0 C842.4,361.9 844.5,360.5 845.1,360.2 M850.4,360.5 C850.1,359.9 848.8,358.0 848.8,356.7 C848.7,355.4 849.0,353.7 849.8,352.8 C850.6,352.0 852.1,351.6 853.4,351.5 C854.7,351.4 856.6,351.6 857.5,352.4 C858.3,353.2 858.7,355.1 858.6,356.4 C858.6,357.7 858.1,359.3 857.2,360.2 C856.4,361.1 854.6,361.4 853.6,361.6 C852.6,361.8 851.5,360.5 851.3,361.3 C851.0,362.1 851.8,364.8 852.0,366.5 C852.2,368.3 852.6,370.2 852.6,371.9 C852.5,373.6 852.0,376.1 851.6,376.8 C851.2,377.5 850.0,376.5 850.1,375.9 C850.1,375.3 850.5,374.2 851.7,373.2 C853.0,372.2 856.7,370.5 857.7,369.9 M865.0,351.2 C865.0,352.2 864.8,355.7 865.0,357.2 C865.1,358.8 865.3,359.8 865.7,360.4 C866.1,361.1 866.7,361.3 867.2,361.2 C867.7,361.1 868.4,360.7 868.7,360.0 C869.1,359.2 869.3,357.4 869.4,356.9 M869.4,351.0 L869.4,360.1 L869.9,361.1 M877.5,355.9 C878.2,355.8 880.7,355.7 881.7,355.3 C882.8,355.0 883.5,354.5 883.7,353.9 C883.8,353.2 883.2,352.0 882.7,351.5 C882.2,350.9 881.3,350.7 880.6,350.7 C879.9,350.8 878.9,351.0 878.3,351.8 C877.7,352.6 877.1,354.4 877.0,355.7 C877.0,357.0 877.2,358.6 877.8,359.5 C878.4,360.4 879.6,360.9 880.6,360.8 C881.6,360.8 883.3,359.4 883.9,359.1 M888.2,350.5 L888.2,360.6 M888.4,353.9 C889.1,353.4 890.8,351.4 892.1,350.8 C893.5,350.2 895.3,350.1 896.6,350.3 C897.8,350.5 899.1,351.0 899.7,352.0 C900.3,353.0 900.2,354.8 900.2,356.2 C900.3,357.6 900.2,359.6 900.2,360.3 M910.0,344.5 C909.9,346.1 909.7,351.5 909.8,353.9 C909.8,356.3 909.9,357.8 910.3,358.7 C910.7,359.7 911.5,359.8 912.4,359.9 C913.2,360.0 915.0,359.3 915.5,359.2 M905.5,350.2 L915.9,349.5" fill="none" stroke="#0a0a0a" stroke-width="3.50" stroke-linecap="round" stroke-linejoin="round"/>
<path d="M930.6,345.3 C930.6,346.5 930.5,350.5 930.6,352.4 C930.6,354.2 930.6,355.8 930.8,356.7 C931.0,357.6 931.3,357.7 931.7,357.8 C932.1,357.8 932.9,357.3 933.1,357.2 M928.6,348.9 L933.2,348.6 M940.6,344.2 L940.6,357.8 M940.8,352.5 C941.2,352.0 942.4,350.1 943.4,349.5 C944.4,348.8 945.9,348.7 946.9,348.8 C947.9,348.8 948.9,349.3 949.5,350.0 C950.0,350.8 950.0,352.0 950.0,353.2 C950.1,354.5 950.0,357.0 950.0,357.8 M961.4,350.3 C961.1,350.0 960.4,348.9 959.7,348.8 C958.9,348.6 957.8,348.7 957.1,349.3 C956.4,349.9 955.8,351.2 955.5,352.4 C955.3,353.5 955.4,355.1 955.7,355.9 C956.1,356.8 956.9,357.6 957.6,357.8 C958.3,357.9 959.2,357.6 959.8,357.0 C960.5,356.5 961.1,354.8 961.4,354.3 M961.4,348.8 L961.4,356.7 L962.0,357.8 M966.5,348.8 L966.5,357.8 M966.7,351.8 C967.4,351.4 969.2,349.6 970.6,349.1 C972.0,348.6 973.9,348.5 975.2,348.8 C976.5,349.0 977.8,349.5 978.5,350.4 C979.1,351.3 979.0,352.9 979.0,354.1 C979.1,355.4 979.0,357.1 979.0,357.8" fill="none" stroke="#0a0a0a" stroke-width="3.50" stroke-linecap="round" stroke-linejoin="round"/>
<path d="M674.4,403.6 C673.9,403.4 672.7,402.5 671.7,402.4 C670.7,402.4 669.2,402.5 668.5,403.1 C667.8,403.7 667.2,405.2 667.4,406.1 C667.7,406.9 669.1,407.7 670.1,408.3 C671.1,408.9 672.8,408.9 673.5,409.7 C674.3,410.4 674.9,411.7 674.8,412.6 C674.6,413.5 673.5,414.8 672.5,415.3 C671.4,415.8 669.5,415.9 668.5,415.8 C667.5,415.6 666.7,414.6 666.4,414.4 M683.0,405.6 L683.0,412.3 M698.6,405.9 C698.0,405.7 696.5,404.7 695.2,404.7 C693.9,404.6 691.9,404.9 690.9,405.4 C689.9,406.0 689.1,407.2 689.0,408.1 C689.0,408.9 689.7,409.9 690.6,410.4 C691.5,410.8 693.3,411.0 694.6,410.7 C695.9,410.4 697.9,409.1 698.6,408.8 M698.6,404.5 C698.6,405.3 698.8,407.1 698.8,409.4 C698.7,411.6 698.8,415.5 698.3,417.9 C697.9,420.2 697.0,422.4 696.0,423.6 C695.0,424.8 693.4,425.2 692.3,424.9 C691.2,424.7 690.0,422.6 689.5,422.1 M702.2,404.3 L702.2,411.3 M702.4,406.7 C702.7,406.3 703.8,404.9 704.6,404.4 C705.4,404.0 706.5,403.9 707.2,404.0 C708.0,404.1 708.7,404.5 709.1,405.2 C709.5,405.9 709.4,407.2 709.5,408.1 C709.5,409.1 709.5,410.4 709.5,410.9 M721.6,404.5 C721.2,404.3 720.1,403.5 719.1,403.4 C718.0,403.3 716.3,403.5 715.2,404.0 C714.2,404.5 713.3,405.6 713.0,406.5 C712.6,407.4 712.7,408.6 713.2,409.3 C713.7,410.0 715.0,410.5 716.0,410.6 C717.0,410.7 718.4,410.3 719.3,409.8 C720.3,409.3 721.2,408.0 721.6,407.6 M721.6,403.3 L721.6,409.4 L722.6,410.2 M729.3,391.4 C729.3,393.5 729.1,401.2 729.1,404.3 C729.1,407.4 729.2,408.9 729.2,409.9" fill="none" stroke="#0a0a0a" stroke-width="3.50" stroke-linecap="round" stroke-linejoin="round"/><circle cx="683.2" cy="402.5" r="2.17" fill="#0a0a0a"/>
<path d="M750.1,397.2 L750.1,405.8 M750.3,400.0 C750.6,399.6 751.5,398.0 752.2,397.6 C752.9,397.1 753.9,397.0 754.6,397.2 C755.2,397.5 755.8,397.5 756.0,398.9 C756.3,400.4 756.1,404.6 756.1,405.8 M756.1,400.0 C756.5,399.6 757.4,398.0 758.2,397.6 C758.9,397.1 759.9,397.0 760.6,397.2 C761.2,397.5 761.8,397.5 762.0,398.9 C762.3,400.4 762.1,404.6 762.1,405.8 M773.3,398.7 C772.9,398.5 772.0,397.4 771.0,397.2 C770.1,397.1 768.6,397.2 767.7,397.8 C766.8,398.3 765.9,399.6 765.6,400.6 C765.4,401.7 765.4,403.2 765.9,404.1 C766.3,404.9 767.4,405.6 768.3,405.8 C769.2,405.9 770.4,405.6 771.2,405.1 C772.1,404.5 772.9,402.9 773.3,402.5 M773.3,397.2 L773.3,404.7 L774.1,405.8 M785.7,397.1 C785.3,396.9 784.0,396.2 783.0,396.2 C782.1,396.1 780.5,396.3 779.8,396.7 C779.1,397.2 778.5,398.3 778.7,398.9 C779.0,399.6 780.4,400.2 781.4,400.6 C782.5,401.1 784.1,401.1 784.9,401.7 C785.7,402.2 786.3,403.1 786.1,403.9 C786.0,404.6 784.9,405.6 783.9,406.1 C782.8,406.6 780.8,407.0 779.8,406.9 C778.8,406.7 778.0,405.5 777.6,405.2 M792.0,391.4 L792.0,405.8 M800.2,397.2 L792.8,401.3 L801.0,405.8" fill="none" stroke="#0a0a0a" stroke-width="3.50" stroke-linecap="round" stroke-linejoin="round"/>
<path d="M819.5,394.3 C819.5,395.1 819.3,397.9 819.5,399.1 C819.8,400.3 820.2,401.0 820.9,401.5 C821.5,402.0 822.6,402.1 823.5,401.9 C824.3,401.8 825.4,401.4 826.1,400.8 C826.7,400.2 827.0,398.8 827.2,398.3 M827.2,393.8 L827.2,400.9 L828.0,401.6 M832.6,393.4 L832.6,415.1 M832.8,395.9 C833.5,395.4 835.3,393.5 836.7,393.1 C838.2,392.7 840.5,392.8 841.6,393.4 C842.7,393.9 843.5,395.5 843.5,396.5 C843.6,397.6 843.0,398.9 841.9,399.7 C840.8,400.4 838.6,400.9 837.0,401.0 C835.5,401.0 833.5,400.3 832.8,400.2 M858.2,393.1 C857.6,392.9 856.0,391.8 854.6,391.8 C853.2,391.8 851.0,392.2 849.9,392.9 C848.7,393.7 847.9,395.2 847.8,396.2 C847.6,397.3 848.1,398.6 849.0,399.1 C849.8,399.7 851.6,399.9 852.9,399.8 C854.2,399.7 855.8,399.2 856.7,398.6 C857.6,398.0 858.0,396.7 858.2,396.3 M858.2,385.3 L858.2,399.4 M871.8,391.9 C871.4,391.7 870.4,390.8 869.4,390.7 C868.4,390.6 866.8,390.9 865.9,391.4 C864.9,392.0 864.1,393.3 863.8,394.3 C863.4,395.3 863.5,396.7 864.0,397.4 C864.5,398.2 865.6,398.7 866.6,398.8 C867.5,398.9 868.8,398.5 869.7,398.0 C870.5,397.4 871.4,395.9 871.8,395.4 M871.8,390.5 L871.8,397.5 L872.8,398.4 M880.1,385.2 C880.1,386.5 880.0,391.2 880.0,393.1 C880.0,395.1 880.1,396.1 880.5,396.9 C880.8,397.6 881.5,397.7 882.2,397.7 C883.0,397.7 884.5,397.1 885.0,397.0 M876.2,390.4 L885.2,389.4 M889.2,393.2 C889.8,393.1 892.0,393.0 893.0,392.7 C893.9,392.3 894.5,391.9 894.7,391.4 C894.8,390.9 894.3,390.0 893.8,389.6 C893.4,389.2 892.6,389.0 891.9,389.1 C891.3,389.2 890.4,389.4 889.9,390.0 C889.3,390.7 888.8,392.1 888.8,393.1 C888.7,394.1 888.9,395.4 889.4,396.1 C890.0,396.7 891.0,397.1 891.9,397.0 C892.8,396.9 894.4,395.8 894.9,395.5 M906.9,387.8 C906.4,387.7 905.1,387.1 904.1,387.1 C903.0,387.1 901.4,387.4 900.6,387.9 C899.9,388.4 899.2,389.5 899.5,390.1 C899.8,390.7 901.3,391.2 902.4,391.5 C903.4,391.8 905.2,391.7 906.1,392.2 C906.9,392.6 907.5,393.4 907.4,394.1 C907.2,394.9 906.0,395.9 904.9,396.4 C903.8,397.0 901.7,397.6 900.6,397.5 C899.5,397.5 898.7,396.3 898.4,396.1" fill="none" stroke="#0a0a0a" stroke-width="3.50" stroke-linecap="round" stroke-linejoin="round"/>
<path d="M647.6,449.9 L654.6,449.6" fill="none" stroke="#0a0a0a" stroke-width="3.20" stroke-linecap="round" stroke-linejoin="round" />
<path d="M676.2,442.5 C675.8,442.2 674.6,441.2 673.7,441.1 C672.7,441.0 671.3,441.4 670.7,441.9 C670.0,442.5 669.4,443.7 669.7,444.4 C669.9,445.2 671.2,445.7 672.2,446.1 C673.1,446.6 674.7,446.6 675.4,447.2 C676.2,447.7 676.7,448.6 676.5,449.4 C676.4,450.1 675.4,451.1 674.4,451.6 C673.4,452.0 671.6,452.4 670.7,452.2 C669.7,452.1 669.0,451.0 668.6,450.7 M681.2,442.8 C681.2,443.5 680.9,445.8 681.2,447.0 C681.6,448.2 682.3,449.2 683.2,449.7 C684.0,450.3 685.3,450.3 686.4,450.2 C687.5,450.1 688.9,449.6 689.7,449.0 C690.4,448.5 690.7,447.3 690.9,447.0 M690.9,442.8 C690.9,443.9 690.9,446.4 690.9,449.6 C690.8,452.7 690.6,459.7 690.6,461.7 M699.0,442.5 C698.8,442.2 698.0,441.2 697.5,441.1 C696.9,441.0 696.0,441.4 695.6,441.9 C695.2,442.5 694.8,443.7 695.0,444.4 C695.1,445.2 695.9,445.7 696.5,446.1 C697.1,446.6 698.1,446.6 698.5,447.2 C699.0,447.7 699.4,448.6 699.2,449.4 C699.1,450.1 698.5,451.1 697.9,451.6 C697.3,452.0 696.2,452.4 695.6,452.2 C695.0,452.1 694.6,451.0 694.4,450.7 M706.6,435.8 C706.6,437.5 706.5,443.7 706.5,446.1 C706.5,448.6 706.6,449.4 707.0,450.2 C707.3,451.1 708.0,451.2 708.8,451.2 C709.5,451.3 711.0,450.8 711.5,450.7 M702.8,442.9 L711.8,442.5 M715.2,447.0 C715.8,446.9 718.0,446.9 719.0,446.7 C719.9,446.4 720.5,446.0 720.7,445.5 C720.8,444.9 720.3,443.9 719.8,443.4 C719.4,443.0 718.6,442.7 717.9,442.8 C717.3,442.8 716.4,442.9 715.9,443.6 C715.3,444.3 714.8,445.8 714.8,446.8 C714.7,447.9 714.9,449.3 715.4,450.1 C716.0,450.8 717.0,451.3 717.9,451.2 C718.8,451.2 720.4,450.1 720.9,449.9 M725.5,442.8 L725.5,451.2 M725.7,445.5 C726.1,445.1 727.1,443.5 728.0,443.1 C728.9,442.6 730.1,442.5 730.9,442.8 C731.6,443.0 732.3,443.0 732.6,444.4 C732.9,445.9 732.7,450.1 732.8,451.2 M732.8,445.5 C733.2,445.1 734.3,443.5 735.2,443.1 C736.1,442.6 737.3,442.5 738.1,442.8 C738.8,443.0 739.5,443.0 739.8,444.4 C740.1,445.9 739.9,450.1 740.0,451.2" fill="none" stroke="#0a0a0a" stroke-width="3.50" stroke-linecap="round" stroke-linejoin="round"/>
<path d="M764.8,439.0 C764.4,438.8 763.4,437.9 762.5,437.8 C761.6,437.6 760.1,437.5 759.2,438.2 C758.4,438.9 757.4,440.6 757.1,441.8 C756.9,443.0 757.1,444.6 757.8,445.4 C758.5,446.2 760.1,446.7 761.3,446.8 C762.5,446.8 764.4,445.7 765.0,445.5 M775.0,439.3 C774.7,439.0 773.9,437.9 773.1,437.8 C772.3,437.6 771.0,437.7 770.3,438.3 C769.5,438.9 768.8,440.2 768.5,441.4 C768.3,442.5 768.4,444.1 768.7,444.9 C769.1,445.8 770.1,446.6 770.8,446.8 C771.6,446.9 772.6,446.6 773.3,446.0 C774.0,445.5 774.7,443.8 775.0,443.3 M775.0,437.8 L775.0,445.7 L775.8,446.8 M781.8,428.8 C781.8,430.6 781.6,436.6 781.6,439.6 C781.5,442.6 781.6,445.6 781.7,446.8 M786.6,428.8 C786.6,430.6 786.4,436.6 786.4,439.6 C786.3,442.6 786.4,445.6 786.5,446.8 M804.0,437.5 C803.5,437.2 802.2,436.2 801.2,436.1 C800.1,436.0 798.5,436.3 797.7,436.9 C797.0,437.5 796.3,438.8 796.6,439.6 C796.9,440.3 798.4,440.9 799.5,441.4 C800.5,441.8 802.3,441.9 803.2,442.4 C804.0,443.0 804.6,444.0 804.5,444.8 C804.3,445.6 803.1,446.6 802.0,447.1 C800.9,447.7 798.8,448.1 797.7,447.9 C796.6,447.8 795.8,446.5 795.5,446.2" fill="none" stroke="#0a0a0a" stroke-width="3.50" stroke-linecap="round" stroke-linejoin="round"/>
<path d="M826.5,436.2 C826.2,436.0 825.4,435.1 824.6,435.0 C823.8,434.9 822.4,435.0 821.7,435.6 C820.9,436.1 820.2,437.3 820.0,438.2 C819.7,439.1 819.8,440.4 820.1,441.2 C820.5,441.9 821.5,442.5 822.3,442.6 C823.0,442.7 824.0,442.4 824.8,441.9 C825.5,441.4 826.2,440.0 826.5,439.6 M826.5,434.9 L826.5,441.5 L827.2,442.4 M832.0,434.7 L835.5,442.1 L839.1,434.5 M847.3,434.2 C846.9,434.3 845.3,434.4 844.8,435.0 C844.2,435.7 843.9,437.1 843.9,438.1 C843.8,439.1 844.1,440.4 844.6,441.0 C845.1,441.6 846.2,441.7 846.9,441.7 C847.7,441.6 848.8,441.4 849.3,440.7 C849.8,440.0 850.0,438.6 850.0,437.7 C849.9,436.7 849.7,435.6 849.2,435.0 C848.7,434.4 847.7,434.2 847.1,434.2 C846.5,434.1 846.0,434.6 845.8,434.7 M857.4,434.1 L857.4,441.3 M873.2,434.7 C872.8,434.5 871.4,433.4 870.3,433.3 C869.2,433.3 867.4,433.6 866.5,434.2 C865.6,434.9 864.9,436.3 864.8,437.3 C864.6,438.3 865.0,439.5 865.7,440.1 C866.4,440.7 867.9,440.9 868.9,440.9 C870.0,440.8 871.3,440.4 872.0,439.9 C872.7,439.3 873.0,438.1 873.2,437.7 M873.2,423.2 L873.2,440.7 M877.3,436.8 C878.2,436.7 881.3,436.6 882.5,436.3 C883.8,436.1 884.7,435.7 884.9,435.2 C885.1,434.7 884.4,433.8 883.7,433.4 C883.1,433.1 882.0,432.9 881.1,432.9 C880.2,433.0 879.0,433.2 878.3,433.8 C877.6,434.4 876.8,435.7 876.8,436.7 C876.7,437.7 877.0,438.9 877.7,439.5 C878.4,440.1 879.9,440.5 881.1,440.4 C882.4,440.4 884.5,439.3 885.1,439.1 M898.1,433.8 C897.6,433.6 896.1,432.5 894.8,432.4 C893.6,432.4 891.6,432.7 890.6,433.3 C889.5,434.0 888.8,435.4 888.6,436.4 C888.5,437.4 889.0,438.6 889.8,439.2 C890.5,439.8 892.2,440.0 893.3,440.0 C894.5,439.9 896.0,439.5 896.8,439.0 C897.6,438.4 897.9,437.2 898.1,436.8 M898.1,422.3 L898.1,439.8" fill="none" stroke="#0a0a0a" stroke-width="3.50" stroke-linecap="round" stroke-linejoin="round"/><circle cx="857.6" cy="426.3" r="2.17" fill="#0a0a0a"/>
<path d="M919.4,433.9 L932.6,433.6" fill="none" stroke="#0a0a0a" stroke-width="3.20" stroke-linecap="round" stroke-linejoin="round" />
<path d="M656.0,479.6 C655.6,479.4 654.5,478.4 653.5,478.2 C652.5,478.1 651.0,478.0 650.0,478.7 C649.0,479.4 648.0,481.3 647.8,482.5 C647.5,483.8 647.8,485.5 648.5,486.3 C649.2,487.2 651.0,487.7 652.2,487.8 C653.5,487.8 655.6,486.6 656.2,486.4 M659.8,469.2 L659.8,487.8 M659.9,482.2 C660.3,481.7 661.3,479.7 662.2,479.0 C663.1,478.3 664.5,478.2 665.4,478.2 C666.3,478.3 667.2,478.8 667.7,479.6 C668.2,480.4 668.2,481.6 668.2,483.0 C668.3,484.4 668.2,487.0 668.2,487.8 M672.3,483.0 C673.0,482.9 675.6,482.9 676.7,482.6 C677.8,482.3 678.6,481.9 678.7,481.3 C678.9,480.7 678.3,479.5 677.7,479.0 C677.2,478.5 676.3,478.2 675.5,478.2 C674.7,478.3 673.7,478.4 673.1,479.2 C672.4,480.0 671.8,481.6 671.8,482.8 C671.7,484.0 671.9,485.6 672.6,486.4 C673.2,487.2 674.4,487.8 675.5,487.8 C676.6,487.7 678.4,486.5 679.0,486.2 M690.0,479.9 C689.6,479.6 688.7,478.4 687.8,478.2 C686.8,478.1 685.3,478.2 684.4,478.8 C683.6,479.5 682.7,480.9 682.5,482.1 C682.2,483.2 682.2,484.9 682.7,485.9 C683.1,486.8 684.2,487.6 685.1,487.8 C686.0,487.9 687.2,487.6 688.0,487.0 C688.8,486.4 689.6,484.6 690.0,484.1 M690.0,478.2 L690.0,486.6 L690.9,487.8 M694.4,478.2 L694.4,503.7 M694.5,481.3 C695.2,480.8 697.0,478.6 698.4,478.2 C699.9,477.9 702.2,478.2 703.3,479.0 C704.4,479.8 705.2,481.7 705.2,483.0 C705.3,484.3 704.7,485.8 703.6,486.6 C702.5,487.4 700.3,487.8 698.7,487.8 C697.2,487.7 695.2,486.6 694.5,486.4 M709.3,483.0 C710.2,482.9 713.3,482.9 714.6,482.6 C715.9,482.3 716.8,481.9 717.0,481.3 C717.2,480.7 716.5,479.5 715.8,479.0 C715.2,478.5 714.1,478.2 713.2,478.2 C712.3,478.3 711.0,478.4 710.3,479.2 C709.6,480.0 708.8,481.6 708.8,482.8 C708.7,484.0 709.0,485.6 709.7,486.4 C710.4,487.2 711.9,487.8 713.2,487.8 C714.4,487.7 716.6,486.5 717.2,486.2 M720.8,478.2 L720.8,487.8 M721.0,481.9 C721.6,481.4 722.9,479.6 724.6,479.0 C726.4,478.4 730.4,478.4 731.5,478.2" fill="none" stroke="#0a0a0a" stroke-width="3.50" stroke-linecap="round" stroke-linejoin="round"/>
<path d="M753.0,464.1 C753.0,466.4 752.8,475.0 752.9,478.1 C752.9,481.1 752.9,481.7 753.4,482.6 C753.8,483.6 754.6,483.7 755.5,483.8 C756.4,483.8 758.2,483.3 758.8,483.2 M748.4,474.4 L759.1,473.8 M766.1,474.2 C765.7,474.4 764.1,474.4 763.6,475.2 C763.0,476.0 762.7,477.7 762.6,479.0 C762.6,480.3 762.9,482.0 763.4,482.8 C763.9,483.6 765.0,483.8 765.7,483.8 C766.5,483.7 767.6,483.4 768.1,482.6 C768.6,481.8 768.8,480.0 768.8,478.8 C768.7,477.6 768.5,476.1 768.0,475.4 C767.5,474.6 766.5,474.3 765.9,474.2 C765.3,474.2 764.8,474.7 764.6,474.8" fill="none" stroke="#0a0a0a" stroke-width="3.50" stroke-linecap="round" stroke-linejoin="round"/>
<path d="M780.6,472.1 C780.6,473.1 780.4,476.3 780.6,477.7 C780.9,479.1 781.3,480.0 781.9,480.6 C782.5,481.2 783.5,481.3 784.3,481.2 C785.1,481.1 786.2,480.6 786.8,479.9 C787.4,479.2 787.7,477.5 787.9,477.0 M787.9,471.6 L787.9,480.0 L788.5,480.9 M792.0,471.3 L792.0,497.6 M792.2,474.3 C792.7,473.8 794.1,471.6 795.2,471.1 C796.3,470.7 798.1,470.9 798.9,471.6 C799.8,472.3 800.4,474.2 800.5,475.4 C800.5,476.6 800.0,478.2 799.2,479.0 C798.4,479.9 796.6,480.3 795.4,480.4 C794.3,480.4 792.7,479.5 792.2,479.3 M814.9,471.9 C814.2,471.6 812.5,470.1 811.1,469.9 C809.6,469.8 807.3,470.1 806.2,470.9 C805.0,471.7 804.1,473.6 804.0,474.8 C803.8,476.1 804.3,477.8 805.2,478.6 C806.1,479.4 808.0,479.8 809.3,479.8 C810.7,479.8 812.3,479.2 813.3,478.6 C814.2,477.9 814.6,476.3 814.9,475.8 M814.9,463.6 L814.9,479.8 M824.8,470.6 C824.5,470.4 823.7,469.3 822.9,469.2 C822.1,469.1 820.8,469.3 820.1,469.9 C819.3,470.6 818.6,472.1 818.4,473.2 C818.1,474.4 818.2,476.0 818.5,476.9 C818.9,477.8 819.9,478.5 820.6,478.6 C821.4,478.8 822.4,478.4 823.1,477.7 C823.8,477.1 824.5,475.3 824.8,474.8 M824.8,469.0 L824.8,477.2 L825.5,478.3 M833.8,459.9 C833.7,461.8 833.5,468.2 833.6,471.1 C833.7,473.9 833.7,475.7 834.1,477.0 C834.6,478.2 835.4,478.3 836.3,478.4 C837.2,478.6 839.0,477.8 839.6,477.7 M829.0,466.4 L840.0,465.9 M844.1,472.4 C845.1,472.2 848.7,471.9 850.1,471.6 C851.6,471.2 852.6,470.7 852.9,470.1 C853.1,469.5 852.2,468.4 851.5,467.9 C850.8,467.5 849.6,467.3 848.5,467.4 C847.5,467.5 846.1,467.8 845.2,468.6 C844.4,469.4 843.6,471.0 843.5,472.2 C843.3,473.4 843.7,474.9 844.5,475.7 C845.4,476.4 847.1,476.8 848.5,476.7 C849.9,476.6 852.4,475.2 853.1,474.9" fill="none" stroke="#0a0a0a" stroke-width="3.50" stroke-linecap="round" stroke-linejoin="round"/>
<path d="M866.4,457.2 C866.4,458.5 866.3,462.4 866.4,464.5 C866.4,466.6 866.3,468.3 866.6,469.6 C867.0,471.0 867.8,471.8 868.5,472.3 C869.2,472.9 870.0,472.8 870.9,472.8 C871.7,472.7 872.8,472.6 873.5,471.9 C874.2,471.2 874.7,470.0 875.1,468.6 C875.4,467.2 875.3,465.3 875.4,463.4 C875.4,461.6 875.4,458.3 875.4,457.2 M882.5,455.8 L882.5,473.8 L894.0,473.8" fill="none" stroke="#0a0a0a" stroke-width="3.50" stroke-linecap="round" stroke-linejoin="round"/>
<path d="M903.5,459.8 L903.5,468.4 M903.6,462.5 C903.8,462.1 904.6,460.6 905.3,460.1 C905.9,459.6 906.9,459.5 907.4,459.8 C908.0,460.0 908.5,460.0 908.7,461.5 C909.0,462.9 908.8,467.3 908.9,468.4 M908.9,462.5 C909.2,462.1 910.0,460.6 910.7,460.1 C911.4,459.6 912.3,459.5 912.8,459.8 C913.4,460.0 913.9,460.0 914.1,461.5 C914.4,462.9 914.2,467.3 914.2,468.4 M926.7,461.2 C926.4,461.0 925.6,459.9 924.8,459.8 C924.0,459.6 922.6,459.7 921.9,460.3 C921.1,460.9 920.4,462.2 920.1,463.2 C919.9,464.3 920.0,465.8 920.3,466.7 C920.7,467.6 921.7,468.3 922.5,468.4 C923.2,468.6 924.2,468.3 925.0,467.8 C925.7,467.2 926.4,465.6 926.7,465.1 M926.7,459.8 L926.7,467.4 L927.5,468.4 M939.0,459.6 C938.5,459.4 937.3,458.8 936.3,458.7 C935.3,458.6 933.8,458.8 933.1,459.2 C932.4,459.7 931.8,460.8 932.0,461.5 C932.3,462.2 933.7,462.8 934.7,463.2 C935.7,463.7 937.4,463.7 938.1,464.3 C938.9,464.8 939.5,465.8 939.4,466.5 C939.2,467.3 938.1,468.3 937.1,468.8 C936.0,469.3 934.1,469.7 933.1,469.6 C932.1,469.4 931.3,468.2 931.0,467.9 M947.6,455.4 L959.1,468.4 M959.1,455.4 L947.6,468.4" fill="none" stroke="#0a0a0a" stroke-width="3.50" stroke-linecap="round" stroke-linejoin="round"/>
<path d="M646.4,528.1 L650.4,527.8" fill="none" stroke="#0a0a0a" stroke-width="3.20" stroke-linecap="round" stroke-linejoin="round" />
<path d="M672.5,521.4 C672.1,521.1 670.8,519.6 669.8,519.6 C668.9,519.5 667.3,520.2 666.6,520.9 C665.9,521.6 665.3,523.1 665.5,523.8 C665.8,524.5 667.2,525.0 668.2,525.4 C669.3,525.8 670.9,525.7 671.7,526.2 C672.5,526.7 673.1,527.6 673.0,528.3 C672.8,529.1 671.7,530.2 670.7,530.8 C669.6,531.4 667.6,532.1 666.6,532.0 C665.6,531.9 664.8,530.5 664.5,530.1 M681.2,521.6 L681.2,529.8 M696.7,522.2 C696.1,521.9 694.6,520.8 693.3,520.7 C692.1,520.5 690.1,520.9 689.1,521.6 C688.1,522.2 687.3,523.7 687.2,524.7 C687.2,525.7 687.9,527.0 688.8,527.5 C689.7,528.1 691.4,528.3 692.8,528.0 C694.1,527.7 696.1,526.1 696.7,525.7 M696.7,520.5 C696.7,521.5 696.9,523.6 696.9,526.4 C696.8,529.2 696.9,534.3 696.4,537.3 C696.0,540.4 695.2,543.3 694.2,544.8 C693.2,546.3 691.6,546.8 690.5,546.4 C689.4,546.1 688.1,543.4 687.7,542.8 M702.8,520.2 L702.8,528.7 M702.9,523.0 C703.4,522.6 704.8,520.9 705.9,520.3 C707.0,519.8 708.4,519.7 709.5,519.8 C710.5,520.0 711.5,520.4 712.0,521.2 C712.5,522.0 712.4,523.6 712.5,524.8 C712.5,525.9 712.5,527.6 712.5,528.2 M726.9,520.3 C726.5,520.1 725.5,519.1 724.4,519.0 C723.4,518.9 721.6,519.1 720.6,519.7 C719.6,520.4 718.7,521.7 718.4,522.7 C718.0,523.8 718.1,525.3 718.6,526.1 C719.1,527.0 720.4,527.6 721.4,527.7 C722.4,527.8 723.7,527.4 724.7,526.8 C725.6,526.2 726.6,524.6 726.9,524.2 M726.9,518.9 L726.9,526.4 L728.0,527.3 M736.4,505.9 C736.4,508.3 736.2,516.6 736.2,520.1 C736.1,523.6 736.2,525.8 736.3,526.9" fill="none" stroke="#0a0a0a" stroke-width="3.50" stroke-linecap="round" stroke-linejoin="round"/><circle cx="681.4" cy="513.6" r="2.17" fill="#0a0a0a"/>
<path d="M752.1,510.1 L752.1,528.1 M752.4,521.7 C753.0,521.1 754.6,518.6 756.0,517.8 C757.4,516.9 759.5,516.5 760.9,516.6 C762.3,516.6 763.8,517.0 764.5,517.8 C765.3,518.7 765.2,520.2 765.4,521.8 C765.5,523.3 765.4,526.3 765.4,527.3 M777.1,517.3 C776.7,517.1 775.8,515.8 774.8,515.6 C773.9,515.5 772.4,515.7 771.5,516.5 C770.6,517.3 769.7,519.0 769.5,520.4 C769.2,521.8 769.2,523.7 769.7,524.8 C770.1,525.8 771.2,526.6 772.1,526.8 C773.0,527.0 774.2,526.5 775.0,525.7 C775.9,525.0 776.7,522.9 777.1,522.3 M777.1,515.5 L777.1,525.2 L778.0,526.4 M782.6,515.1 L782.6,526.1 M782.8,518.8 C783.2,518.3 784.4,516.0 785.4,515.4 C786.4,514.7 787.6,514.5 788.5,514.7 C789.4,514.9 790.3,515.5 790.8,516.5 C791.2,517.6 791.1,519.6 791.1,521.1 C791.2,522.6 791.1,524.8 791.1,525.5 M804.2,515.9 C803.7,515.5 802.2,514.0 800.9,513.9 C799.6,513.8 797.6,514.3 796.6,515.3 C795.6,516.3 794.8,518.4 794.6,519.8 C794.5,521.2 795.0,523.0 795.8,523.9 C796.6,524.8 798.2,525.1 799.4,525.0 C800.6,524.9 802.0,524.2 802.9,523.4 C803.7,522.6 804.0,520.8 804.2,520.3 M804.2,506.7 L804.2,524.7 M813.4,506.1 C813.3,507.6 813.1,512.3 813.0,515.3 C813.0,518.3 813.1,522.6 813.1,524.1 M820.2,513.0 L820.2,523.6 M827.0,512.1 L827.0,523.1 M827.0,515.9 C827.4,515.3 828.2,513.1 828.9,512.5 C829.6,511.8 830.5,511.7 831.1,511.9 C831.7,512.1 832.4,512.7 832.7,513.7 C833.0,514.8 832.9,516.8 833.0,518.3 C833.0,519.8 833.0,522.0 833.0,522.7 M846.0,513.1 C845.5,512.7 844.1,511.2 843.0,511.1 C841.9,510.9 840.2,511.3 839.3,512.2 C838.4,513.1 837.7,515.0 837.6,516.3 C837.6,517.6 838.2,519.2 839.0,519.9 C839.8,520.6 841.4,520.9 842.5,520.6 C843.7,520.2 845.4,518.2 846.0,517.7 M846.0,510.9 C846.0,512.2 846.2,515.2 846.1,518.6 C846.1,521.9 846.2,527.7 845.8,531.1 C845.4,534.6 844.6,537.8 843.8,539.4 C842.9,541.1 841.5,541.6 840.5,541.2 C839.6,540.9 838.4,537.9 838.0,537.2" fill="none" stroke="#0a0a0a" stroke-width="3.50" stroke-linecap="round" stroke-linejoin="round"/><circle cx="820.6" cy="504.9" r="2.17" fill="#0a0a0a"/>
<path d="M866.4,509.2 L866.4,520.2 M866.5,512.8 C866.7,512.3 867.5,510.3 868.2,509.7 C868.8,509.1 869.8,509.0 870.3,509.2 C870.9,509.5 871.4,509.6 871.6,511.4 C871.9,513.3 871.7,518.8 871.8,520.2 M871.8,512.8 C872.1,512.3 872.9,510.3 873.6,509.7 C874.3,509.1 875.2,509.0 875.7,509.2 C876.3,509.5 876.8,509.6 877.0,511.4 C877.3,513.3 877.1,518.8 877.1,520.2 M888.8,509.2 C888.2,509.4 886.2,509.4 885.5,510.4 C884.7,511.3 884.3,513.3 884.2,514.8 C884.2,516.2 884.6,518.2 885.2,519.1 C885.9,520.1 887.3,520.3 888.4,520.2 C889.4,520.2 890.8,519.9 891.5,518.9 C892.1,518.0 892.4,515.9 892.4,514.5 C892.3,513.1 892.0,511.4 891.4,510.6 C890.7,509.7 889.3,509.4 888.6,509.2 C887.8,509.1 887.1,509.8 886.8,509.9 M898.2,509.2 L898.2,520.2 M898.3,513.4 C898.6,512.9 899.1,510.8 899.8,510.1 C900.5,509.4 902.2,509.4 902.6,509.2 M907.8,514.8 C908.5,514.7 911.1,514.6 912.1,514.3 C913.1,514.0 913.9,513.5 914.1,512.8 C914.2,512.1 913.6,510.7 913.1,510.1 C912.6,509.5 911.7,509.2 910.9,509.2 C910.2,509.3 909.2,509.5 908.6,510.4 C908.0,511.2 907.4,513.1 907.4,514.5 C907.3,515.9 907.5,517.8 908.1,518.7 C908.7,519.7 909.9,520.3 910.9,520.2 C912.0,520.2 913.7,518.8 914.2,518.5" fill="none" stroke="#0a0a0a" stroke-width="3.50" stroke-linecap="round" stroke-linejoin="round"/>
<path d="M710.5,554.0 C711.3,553.9 714.1,553.9 715.3,553.7 C716.4,553.4 717.3,553.0 717.4,552.5 C717.6,551.9 716.9,550.9 716.3,550.4 C715.8,550.0 714.8,549.7 714.0,549.8 C713.1,549.8 712.0,549.9 711.4,550.6 C710.7,551.3 710.0,552.8 710.0,553.8 C709.9,554.9 710.1,556.3 710.8,557.1 C711.5,557.8 712.8,558.3 714.0,558.2 C715.1,558.2 717.0,557.1 717.6,556.9 M727.1,549.8 L734.1,558.2 M734.1,549.8 L727.1,558.2 M740.6,549.8 L740.6,565.4 M740.8,552.5 C741.4,552.0 743.0,550.1 744.3,549.8 C745.7,549.4 747.7,549.7 748.8,550.4 C749.8,551.1 750.5,552.9 750.5,554.0 C750.6,555.1 750.1,556.5 749.1,557.2 C748.1,557.9 746.0,558.3 744.6,558.2 C743.3,558.2 741.4,557.3 740.8,557.1 M759.0,554.0 C759.8,553.9 762.3,553.9 763.4,553.7 C764.4,553.4 765.2,553.0 765.4,552.5 C765.5,551.9 764.9,550.9 764.4,550.4 C763.8,550.0 763.0,549.7 762.2,549.8 C761.4,549.8 760.4,549.9 759.8,550.6 C759.2,551.3 758.6,552.8 758.5,553.8 C758.5,554.9 758.7,556.3 759.3,557.1 C759.9,557.8 761.2,558.3 762.2,558.2 C763.2,558.2 765.0,557.1 765.5,556.9 M770.5,549.8 L770.5,558.2 M770.7,552.6 C771.1,552.2 772.3,550.6 773.3,550.1 C774.3,549.6 775.5,549.6 776.4,549.8 C777.3,549.9 778.2,550.4 778.7,551.3 C779.1,552.1 779.0,553.7 779.0,554.9 C779.1,556.0 779.0,557.7 779.0,558.2 M793.5,549.6 C793.1,549.4 791.8,548.8 790.8,548.7 C789.9,548.7 788.3,548.8 787.6,549.2 C786.9,549.7 786.3,550.8 786.5,551.5 C786.8,552.1 788.2,552.7 789.2,553.1 C790.3,553.6 791.9,553.6 792.7,554.2 C793.5,554.7 794.1,555.7 794.0,556.4 C793.8,557.1 792.7,558.0 791.7,558.5 C790.6,558.9 788.6,559.0 787.6,558.9 C786.6,558.7 785.8,557.9 785.5,557.7 M803.2,550.1 L803.2,558.2 M811.0,549.8 L814.4,558.2 L817.9,549.8 M825.2,554.0 C826.3,553.9 830.6,553.9 832.3,553.7 C834.0,553.4 835.3,553.0 835.5,552.5 C835.8,551.9 834.8,550.9 833.9,550.4 C833.0,550.0 831.6,549.7 830.3,549.8 C829.1,549.8 827.5,549.9 826.5,550.6 C825.5,551.3 824.5,552.8 824.4,553.8 C824.2,554.9 824.6,556.3 825.6,557.1 C826.6,557.8 828.6,558.3 830.3,558.2 C832.0,558.2 834.9,557.1 835.9,556.9" fill="none" stroke="#0a0a0a" stroke-width="3.50" stroke-linecap="round" stroke-linejoin="round"/>
<circle cx="827.3" cy="541.3" r="1.7" fill="#0a0a0a"/>
<defs><linearGradient id="pen" x1="0" y1="0" x2="1" y2="0.6"><stop offset="0" stop-color="#4a4645"/><stop offset="0.35" stop-color="#6d625c"/><stop offset="1" stop-color="#8d7f6e"/></linearGradient><filter id="pb" x="-20%" y="-20%" width="140%" height="140%"><feGaussianBlur stdDeviation="0.7"/></filter></defs>
<path d="M843.6,561.6 Q844.5,559.8 847,561.2 Q858,566 872,574 L846,574 Q844.6,566 843.6,561.6 Z" fill="url(#pen)" filter="url(#pb)"/>
</svg>
</body></html>
